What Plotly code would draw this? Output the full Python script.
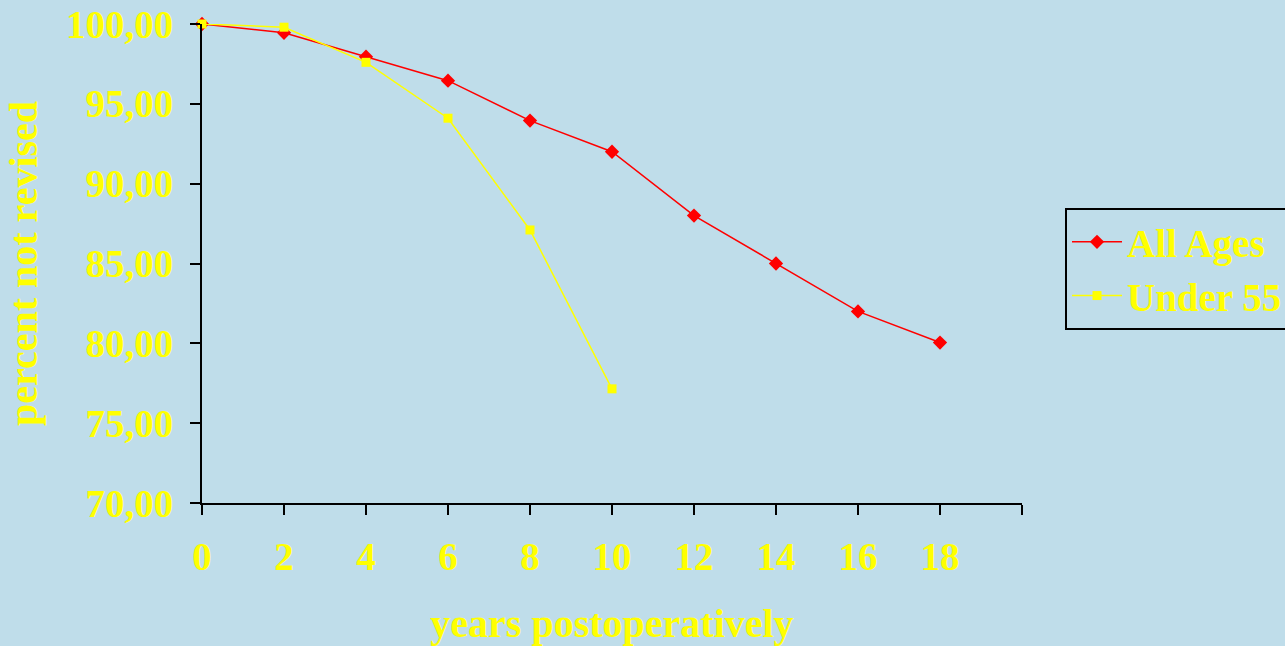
import plotly.graph_objects as go

years_all = [0, 2, 4, 6, 8, 10, 12, 14, 16, 18]
all_ages = [100.0, 99.45, 97.95, 96.45, 93.95, 92.0, 88.0, 85.0, 82.0, 80.05]
years_u55 = [0, 2, 4, 6, 8, 10]
under_55 = [100.0, 99.8, 97.6, 94.1, 87.1, 77.15]

x_ticks = [0, 2, 4, 6, 8, 10, 12, 14, 16, 18, 20]
x_labels = ["0", "2", "4", "6", "8", "10", "12", "14", "16", "18", ""]
y_ticks = [70, 75, 80, 85, 90, 95, 100]
y_labels = ["70,00", "75,00", "80,00", "85,00", "90,00", "95,00", "100,00"]

BG = "#BFDDEA"
YEL = "#FFFF00"
FONT = "Liberation Serif"

def b(s):
    return f"<b>{s}</b>" if s else ""

fig = go.Figure()
fig.add_trace(go.Scatter(x=years_all, y=all_ages, name=b("All Ages"), mode="lines+markers",
                         line=dict(color="#FF0000", width=1.5),
                         marker=dict(symbol="diamond", size=11, color="#FF0000"),
                         cliponaxis=False))
fig.add_trace(go.Scatter(x=years_u55, y=under_55, name=b("Under 55"), mode="lines+markers",
                         line=dict(color="#FFFF00", width=1.5),
                         marker=dict(symbol="square", size=9, color="#FFFF00"),
                         cliponaxis=False))

fig.update_layout(
    width=1285, height=646,
    paper_bgcolor=BG, plot_bgcolor=BG,
    margin=dict(l=202, r=263, t=24, b=143),
    font=dict(family=FONT, color=YEL, size=36),
    showlegend=True,
    legend=dict(xref="container", yref="container", x=0.8288, y=0.678,
                xanchor="left", yanchor="top",
                bgcolor=BG, bordercolor="#000000", borderwidth=2,
                font=dict(family=FONT, size=39, color=YEL),
                tracegroupgap=0, itemwidth=50),
    xaxis=dict(range=[0, 20], tickvals=x_ticks, ticktext=[b(s) for s in x_labels],
               automargin=False,
               showgrid=False, zeroline=False, showline=True, linecolor="#000000", linewidth=2,
               ticks="outside", ticklen=10, tickwidth=2, tickcolor="#000000",
               ticklabelstandoff=8,
               tickfont=dict(family=FONT, size=39, color=YEL),
               title=dict(text=b("years postoperatively"), standoff=33,
                          font=dict(family=FONT, size=40, color=YEL))),
    yaxis=dict(range=[70, 100], tickvals=y_ticks, ticktext=[b(s) for s in y_labels],
               automargin=False,
               showgrid=False, zeroline=False, showline=True, linecolor="#000000", linewidth=2,
               ticks="outside", ticklen=10, tickwidth=2, tickcolor="#000000",
               ticklabelstandoff=9,
               tickfont=dict(family=FONT, size=39, color=YEL),
               title=dict(text=b("percent not revised"), standoff=16,
                          font=dict(family=FONT, size=40, color=YEL))),
)

fig.write_html("out.html", config={"displayModeBar": False},
               post_script="document.body.style.margin='0';document.body.style.overflow='hidden';")
